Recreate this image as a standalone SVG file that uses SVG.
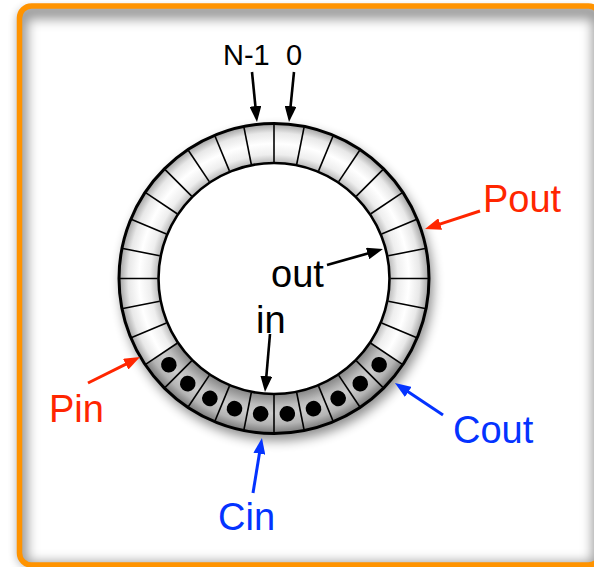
<svg xmlns="http://www.w3.org/2000/svg" xmlns:xlink="http://www.w3.org/1999/xlink" width="594" height="567" viewBox="0 0 594 567">
<style>
text{font-family:"Liberation Sans",Arial,Helvetica,sans-serif}
.lbl{font-size:38px}
.idx{font-size:29px;fill:#000}
.blk{fill:#000}
.red{fill:#ff2600}
.blu{fill:#0433ff}
.div{stroke:#000;stroke-width:1.6}
.ab{stroke:#000;stroke-width:2.6;fill:none}
.ar{stroke:#ff2600;stroke-width:3;fill:none}
.au{stroke:#0433ff;stroke-width:3;fill:none}
</style>
<defs>
<filter id="blur6" x="-20%" y="-20%" width="140%" height="140%"><feGaussianBlur stdDeviation="6"/></filter>
<filter id="blur5" x="-20%" y="-20%" width="140%" height="140%"><feGaussianBlur stdDeviation="5"/></filter>
<clipPath id="frameClip"><rect x="19.5" y="6" width="581" height="559" rx="12"/></clipPath>
<radialGradient id="band" gradientUnits="userSpaceOnUse" cx="0" cy="0" r="155">
<stop offset="0.745" stop-color="#b8b8b8"/>
<stop offset="0.80" stop-color="#eeeeee"/>
<stop offset="0.87" stop-color="#ffffff"/>
<stop offset="0.94" stop-color="#e8e8e8"/>
<stop offset="1" stop-color="#a0a0a0"/>
</radialGradient>
<radialGradient id="bandDark" gradientUnits="userSpaceOnUse" cx="0" cy="0" r="155">
<stop offset="0.745" stop-color="#848484"/>
<stop offset="0.82" stop-color="#bcbcbc"/>
<stop offset="0.87" stop-color="#cccccc"/>
<stop offset="0.94" stop-color="#b4b4b4"/>
<stop offset="1" stop-color="#787878"/>
</radialGradient>
<line id="div" class="div" x1="0" y1="-116.5" x2="0" y2="-154"/>
<circle id="dot" cx="0" cy="-136" r="7.8" fill="#000"/>
<marker id="mk" markerUnits="userSpaceOnUse" markerWidth="16" markerHeight="12" refX="2" refY="6" orient="auto"><path d="M0,0 L16,6 L0,12 Z" fill="#000"/></marker>
<marker id="mr" markerUnits="userSpaceOnUse" markerWidth="16" markerHeight="12" refX="2" refY="6" orient="auto"><path d="M0,0 L16,6 L0,12 Z" fill="#ff2600"/></marker>
<marker id="mu" markerUnits="userSpaceOnUse" markerWidth="16" markerHeight="12" refX="2" refY="6" orient="auto"><path d="M0,0 L16,6 L0,12 Z" fill="#0433ff"/></marker>
</defs>

<g id="frame">
<rect x="17" y="8" width="581" height="559" rx="12" fill="#000" opacity="0.3" filter="url(#blur5)"/>
<rect x="19.5" y="6" width="581" height="559" rx="12" fill="#fff"/>
<g clip-path="url(#frameClip)">
<rect x="19.5" y="6" width="581" height="559" rx="12" fill="none" stroke="#000" stroke-opacity="0.4" stroke-width="16" filter="url(#blur6)" transform="translate(0,5)"/>
</g>
<rect x="19.5" y="6" width="581" height="559" rx="12" fill="none" stroke="#ff9300" stroke-width="5.5"/>
</g>

<g id="ring" transform="translate(274,278.5)">
<circle cx="3" cy="6" r="156" fill="#000" opacity="0.45" filter="url(#blur6)"/>
<circle cx="0" cy="0" r="155" fill="url(#band)"/>
<path d="M128.9,86.1 A155,155 0 0 1 -128.9,86.1 L-96,64.2 A115.5,115.5 0 0 0 96,64.2 Z" fill="url(#bandDark)"/>
<circle cx="0" cy="0" r="115.5" fill="#fff" stroke="#000" stroke-width="2.6"/>
<use xlink:href="#div" transform="rotate(0)"/>
<use xlink:href="#div" transform="rotate(11.25)"/>
<use xlink:href="#div" transform="rotate(22.5)"/>
<use xlink:href="#div" transform="rotate(33.75)"/>
<use xlink:href="#div" transform="rotate(45)"/>
<use xlink:href="#div" transform="rotate(56.25)"/>
<use xlink:href="#div" transform="rotate(67.5)"/>
<use xlink:href="#div" transform="rotate(78.75)"/>
<use xlink:href="#div" transform="rotate(90)"/>
<use xlink:href="#div" transform="rotate(101.25)"/>
<use xlink:href="#div" transform="rotate(112.5)"/>
<use xlink:href="#div" transform="rotate(123.75)"/>
<use xlink:href="#div" transform="rotate(135)"/>
<use xlink:href="#div" transform="rotate(146.25)"/>
<use xlink:href="#div" transform="rotate(157.5)"/>
<use xlink:href="#div" transform="rotate(168.75)"/>
<use xlink:href="#div" transform="rotate(180)"/>
<use xlink:href="#div" transform="rotate(191.25)"/>
<use xlink:href="#div" transform="rotate(202.5)"/>
<use xlink:href="#div" transform="rotate(213.75)"/>
<use xlink:href="#div" transform="rotate(225)"/>
<use xlink:href="#div" transform="rotate(236.25)"/>
<use xlink:href="#div" transform="rotate(247.5)"/>
<use xlink:href="#div" transform="rotate(258.75)"/>
<use xlink:href="#div" transform="rotate(270)"/>
<use xlink:href="#div" transform="rotate(281.25)"/>
<use xlink:href="#div" transform="rotate(292.5)"/>
<use xlink:href="#div" transform="rotate(303.75)"/>
<use xlink:href="#div" transform="rotate(315)"/>
<use xlink:href="#div" transform="rotate(326.25)"/>
<use xlink:href="#div" transform="rotate(337.5)"/>
<use xlink:href="#div" transform="rotate(348.75)"/>
<circle cx="0" cy="0" r="155" fill="none" stroke="#000" stroke-width="3"/>
<use xlink:href="#dot" transform="rotate(129.375)"/>
<use xlink:href="#dot" transform="rotate(140.625)"/>
<use xlink:href="#dot" transform="rotate(151.875)"/>
<use xlink:href="#dot" transform="rotate(163.125)"/>
<use xlink:href="#dot" transform="rotate(174.375)"/>
<use xlink:href="#dot" transform="rotate(185.625)"/>
<use xlink:href="#dot" transform="rotate(196.875)"/>
<use xlink:href="#dot" transform="rotate(208.125)"/>
<use xlink:href="#dot" transform="rotate(219.375)"/>
<use xlink:href="#dot" transform="rotate(230.625)"/>
</g>

<g id="label-N-1"><text class="idx" x="223" y="65">N-1</text></g>
<g id="label-0"><text class="idx" x="286" y="65">0</text></g>
<g id="label-out"><text class="lbl blk" x="271" y="287">out</text></g>
<g id="label-in"><text class="lbl blk" x="256" y="333">in</text></g>
<g id="label-Pout"><text class="lbl red" x="483" y="212">Pout</text></g>
<g id="label-Pin"><text class="lbl red" x="49" y="422">Pin</text></g>
<g id="label-Cout"><text class="lbl blu" x="453" y="443">Cout</text></g>
<g id="label-Cin"><text class="lbl blu" x="218" y="530">Cin</text></g>

<g id="connectors">
<line class="ab" x1="252" y1="72" x2="255.6" y2="108.1" marker-end="url(#mk)"/>
<line class="ab" x1="294" y1="72" x2="290.4" y2="108.1" marker-end="url(#mk)"/>
<line class="ab" x1="327" y1="265" x2="369.5" y2="252.9" marker-end="url(#mk)"/>
<line class="ab" x1="270" y1="334" x2="266.2" y2="378.1" marker-end="url(#mk)"/>
<line class="ar" x1="480" y1="211" x2="438.3" y2="224.6" marker-end="url(#mr)"/>
<line class="ar" x1="88" y1="383" x2="127.5" y2="363.3" marker-end="url(#mr)"/>
<line class="au" x1="443" y1="415" x2="406.6" y2="390.8" marker-end="url(#mu)"/>
<line class="au" x1="253" y1="493" x2="259.7" y2="451.8" marker-end="url(#mu)"/>
</g>
</svg>
